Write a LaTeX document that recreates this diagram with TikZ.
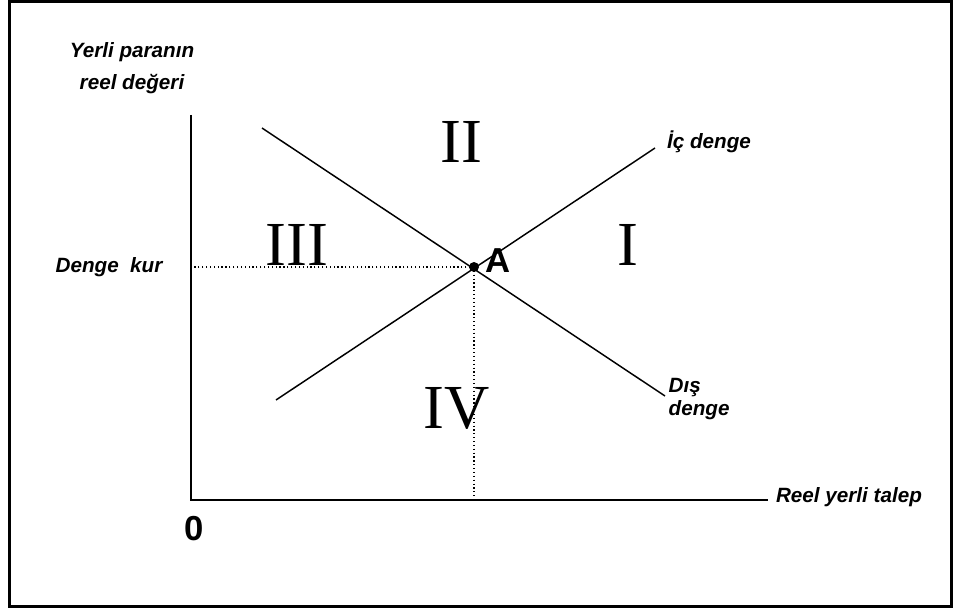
\documentclass[tikz,border=0pt]{standalone}
\usepackage{fontspec}
\setsansfont{Liberation Sans}
\newfontfamily\romanfont{Liberation Serif}
\usetikzlibrary{calc}

\begin{document}
\begin{tikzpicture}[x=0.75pt, y=-0.75pt, line width=1.1pt,
	   lbl/.style={font=\sffamily\bfseries\itshape\fontsize{15.5}{18}\selectfont, inner sep=0pt, anchor=base},
	   region/.style={font=\romanfont\fontsize{47}{50}\selectfont, inner sep=0pt, anchor=base},
	   big/.style={font=\sffamily\bfseries\fontsize{26}{28}\selectfont, inner sep=0pt, anchor=base},
	   guide/.style={dotted, line width=0.9pt}]
	  \useasboundingbox (0,0) rectangle (959,613);
	  \draw[line width=2pt] (9.5,1.5) rectangle (951.5,606.5);
	  % axes
	  \coordinate (O) at (191,500);
	  \coordinate (ytop) at (191,115);
	  \coordinate (xend) at (768,500);
	  \draw (ytop)--(O)--(xend);
	  % balance lines
	  \coordinate (d1) at (262,128); \coordinate (d2) at (665,396);
	  \coordinate (i1) at (276,400); \coordinate (i2) at (655,148);
	  \draw (d1)--(d2); \draw (i1)--(i2);
	  \node[circle, fill, inner sep=0pt, minimum size=7.5pt] (A) at (474,267) {};
	  \draw[guide] (A.center)--(A.center -| O);
	  \draw[guide] (A.center)--(A.center |- O);
	  % labels
	  \node[lbl] (ylab1) at (132,58) {Yerli paranın};
	  \node[lbl] (ylab2) at (132,90) {reel değeri};
	  \node[lbl] (kur) at (109,272) {Denge\ \ kur};
	  \node[lbl] (xlab) at (849,502) {Reel yerli talep};
	  \node[lbl] (ic) at (709,148) {İç denge};
	  \node[lbl, anchor=base west] (dis1) at (668,392) {Dış};
	  \node[lbl, anchor=base west] (dis2) at (668,415) {denge};
	  \node[big] (Alab) at (498,272) {A};
	  \node[big] (zero) at (194,540) {0};
	  \node[region] (r2) at (461,162) {II};
	  \node[region] (r3) at (297,265) {III};
	  \node[region] (r1) at (628,265) {I};
	  \node[region] (r4) at (457,428) {IV};
	\end{tikzpicture}
\end{document}
